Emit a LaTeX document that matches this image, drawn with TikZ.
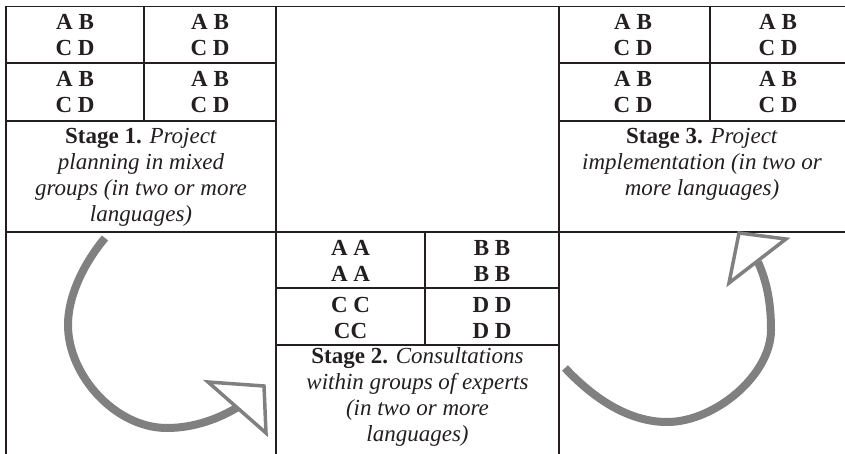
\documentclass[tikz,border=0pt]{standalone}
\usepackage{fontspec}
\setmainfont{Liberation Serif}
\definecolor{lineblack}{HTML}{231F20}
\definecolor{arrowgray}{HTML}{808080}
\begin{document}
\begin{tikzpicture}[x=1pt,y=-1pt,
  tbl/.style={line width=1.8pt, draw=lineblack},
  cell/.style={inner sep=0pt, anchor=north, align=center,
    font=\fontsize{23}{26}\selectfont\bfseries, text=lineblack},
  stage/.style={inner sep=0pt, anchor=north, align=center,
    font=\fontsize{23}{26}\selectfont, text=lineblack},
  shaft/.style={draw=arrowgray, line width=8pt},
  head/.style={draw=arrowgray, line width=3.5pt, fill=white, line join=miter}]
\useasboundingbox (0,0) rectangle (845,454);
% table frame
\draw[tbl] (6,6.5) -- (845,6.5);
\draw[tbl] (6,5.6) -- (6,454);
\draw[tbl] (276,6.5) -- (276,454);
\draw[tbl] (559,6.5) -- (559,454);
\draw[tbl] (6,232) -- (845,232);
% top-left inner table
\draw[tbl] (144,6.5) -- (144,121);
\draw[tbl] (6,63) -- (276,63);
\draw[tbl] (6,121) -- (276,121);
% top-right inner table
\draw[tbl] (710,6.5) -- (710,121);
\draw[tbl] (559,63) -- (845,63);
\draw[tbl] (559,121) -- (845,121);
% bottom-middle inner table
\draw[tbl] (425,232) -- (425,345);
\draw[tbl] (276,288) -- (559,288);
\draw[tbl] (276,345) -- (559,345);
% top-left texts
\node[cell] (tl11) at (75,11.3) {\strut A B\\C D};
\node[cell] (tl12) at (210,11.3) {\strut A B\\C D};
\node[cell] (tl21) at (75,68.3) {\strut A B\\C D};
\node[cell] (tl22) at (210,68.3) {\strut A B\\C D};
\node[stage] (s1) at (141,124.8) {\strut\textbf{Stage 1.} \textit{Project}\\\textit{planning in mixed}\\\textit{groups (in two or more}\\\textit{languages)}};
% top-right texts
\node[cell] (tr11) at (633,11.3) {\strut A B\\C D};
\node[cell] (tr12) at (778,11.3) {\strut A B\\C D};
\node[cell] (tr21) at (633,68.3) {\strut A B\\C D};
\node[cell] (tr22) at (778,68.3) {\strut A B\\C D};
\node[stage] (s3) at (702,124.8) {\strut\textbf{Stage 3.} \textit{Project}\\\textit{implementation (in two or}\\\textit{more languages)}};
% bottom-middle texts
\node[cell] (ma) at (350.5,236.8) {\strut A A\\A A};
\node[cell] (mb) at (492,236.8) {\strut B B\\B B};
\node[cell] (mc) at (350.5,293.8) {\strut C C\\CC};
\node[cell] (md) at (492,293.8) {\strut D D\\D D};
\node[stage] (s2) at (417.5,344.8) {\strut\textbf{Stage 2.} \textit{Consultations}\\\textit{within groups of experts}\\\textit{(in two or more}\\\textit{languages)}};
% left arrow
\coordinate (la) at (105,238);
\coordinate (lm1) at (68,325);
\coordinate (lm2) at (167,428);
\coordinate (lb) at (238,407);
\draw[shaft] (la) .. controls (88,258) and (68,292) .. (lm1)
  .. controls (68,375) and (115,428) .. (lm2)
  .. controls (195,428) and (220,418) .. (lb);
\draw[head] (208,382) -- (264,386) -- (266,433) -- cycle;
% right arrow
\coordinate (ra) at (565,368);
\coordinate (rm1) at (667,422);
\coordinate (rm2) at (771,330);
\coordinate (rb) at (758,262);
\draw[shaft] (ra) .. controls (595,400) and (630,422) .. (rm1)
  .. controls (715,422) and (771,375) .. (rm2)
  .. controls (771,300) and (766,280) .. (rb);
\draw[head] (739,233) -- (786,239) -- (729,283) -- cycle;
\end{tikzpicture}
\end{document}
